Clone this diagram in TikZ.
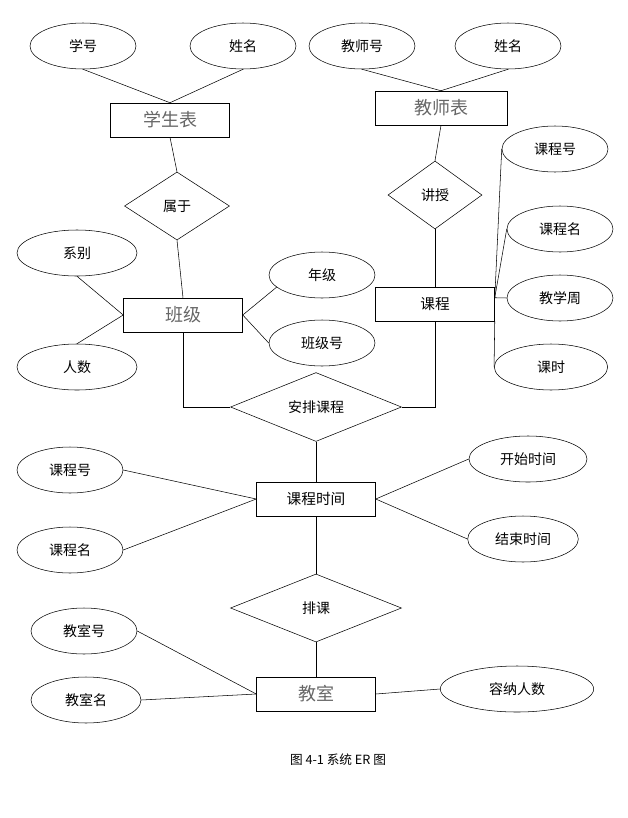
\documentclass[tikz,border=0pt]{standalone}
\usepackage{fontspec}
\setmainfont{Noto Sans CJK SC}
\usetikzlibrary{shapes.geometric}
\tikzset{
    attr/.style={ellipse,draw,inner sep=0pt,minimum width=79.5pt,minimum height=34.5pt,font=\fontsize{10.5}{12}\selectfont},
    entity/.style={rectangle,draw,inner sep=0pt,minimum width=89.25pt,minimum height=25.5pt,font=\fontsize{11}{13}\selectfont},
    grayent/.style={entity,text=black!60,font=\fontsize{13.5}{15}\selectfont},
    rel/.style={diamond,draw,inner sep=0pt,minimum width=78.75pt,minimum height=51pt,font=\fontsize{10.5}{12}\selectfont}
}
\begin{document}
\begin{tikzpicture}[x=0.75pt,y=-0.75pt]
    \useasboundingbox (0,0) rectangle (628,818);
    % student side
    \node[attr] (xh) at (83,46) {学号};
    \node[attr] (xm1) at (243,46) {姓名};
    \node[grayent] (xsb) at (170,120) {学生表};
    \node[rel] (sy) at (177,206) {属于};
    \node[attr,minimum width=90pt] (xb) at (77,253) {系别};
    \node[attr,minimum width=90pt] (rs) at (77,367) {人数};
    \node[grayent] (bj) at (183,315) {班级};
    \node[attr] (nj) at (322,275) {年级};
    \node[attr] (bjh) at (322,343) {班级号};
    % teacher side
    \node[attr] (jsh) at (362,46) {教师号};
    \node[attr] (xm2) at (508,46) {姓名};
    \node[grayent,minimum width=99pt] (jsb) at (441,108) {教师表};
    \node[rel,minimum width=70.5pt] (js) at (435,195) {讲授};
    \node[entity] (kc) at (435,304) {课程};
    \node[attr] (kch1) at (555,149) {课程号};
    \node[attr] (kcm1) at (560,229) {课程名};
    \node[attr] (jxz) at (560,298) {教学周};
    \node[attr,minimum width=85pt] (ks) at (551,367) {课时};
    % middle
    \node[rel,minimum width=128.25pt,minimum height=43.5pt] (apkc) at (316,407) {安排课程};
    \node[entity] (kcsj) at (316,499) {课程时间};
    \node[attr] (kch2) at (70,470) {课程号};
    \node[attr] (kcm2) at (70,550) {课程名};
    \node[attr,minimum width=88.5pt] (kssj) at (528,459) {开始时间};
    \node[attr,minimum width=83pt] (jssj) at (523,539) {结束时间};
    \node[rel,minimum width=128.25pt] (pk) at (316,608) {排课};
    \node[grayent] (jius) at (316,694) {教室};
    \node[attr] (jsh2) at (84,631) {教室号};
    \node[attr,minimum width=82.5pt] (jsm) at (86,700) {教室名};
    \node[attr,minimum width=115pt] (rnrs) at (517,689) {容纳人数};
    \node[font=\fontsize{9.5}{11}\selectfont] (cap) at (338,760) {图 4-1 系统 ER 图};
    % connectors
    \draw (xh.south) -- (xsb.north);
    \draw (xm1.south) -- (xsb.north);
    \draw (xsb.south) -- (sy.north);
    \draw (sy.south) -- (bj.north);
    \draw (xb.south) -- (bj.west);
    \draw (rs.north) -- (bj.west);
    \draw (bj.east) -- (nj.195);
    \draw (bj.east) -- (bjh.west);
    \draw (jsh.south) -- (jsb.north);
    \draw (xm2.south) -- (jsb.north);
    \draw (jsb.south) -- (js.north);
    \draw (js.south) -- (kc.north);
    \draw (kch1.west) -- (kc.6);
    \draw (kcm1.west) -- (kc.6);
    \draw (jxz.west) -- (kc.6);
    \draw (kc.south east) -- (ks.west);
    \draw (bj.south) |- (apkc.west);
    \draw (kc.south) |- (apkc.east);
    \draw (apkc.south) -- (kcsj.north);
    \draw (kch2.east) -- (kcsj.west);
    \draw (kcm2.east) -- (kcsj.west);
    \draw (kcsj.east) -- (kssj.west);
    \draw (kcsj.east) -- (jssj.west);
    \draw (kcsj.south) -- (pk.north);
    \draw (pk.south) -- (jius.north);
    \draw (jsh2.east) -- (jius.west);
    \draw (jsm.east) -- (jius.west);
    \draw (jius.east) -- (rnrs.west);
\end{tikzpicture}
\end{document}
